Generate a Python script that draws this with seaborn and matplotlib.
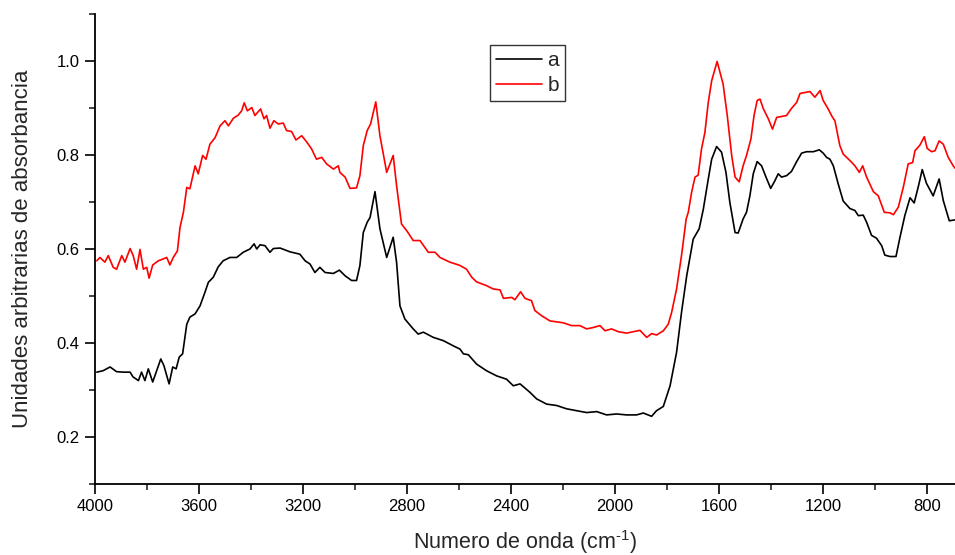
import matplotlib
matplotlib.use("Agg")
import matplotlib.pyplot as plt
import seaborn as sns
import pandas as pd
from matplotlib.ticker import MultipleLocator
from matplotlib.lines import Line2D

# ---- data ----
wn_a = [3993, 3969, 3942, 3917, 3891, 3865, 3854, 3833, 3821, 3808, 3795, 3778, 3763, 3747, 3735,
        3715, 3701, 3688, 3676, 3663, 3647, 3635, 3615, 3596, 3577, 3564, 3545, 3526, 3507, 3481,
        3455, 3430, 3404, 3388, 3378, 3365, 3346, 3327, 3314, 3288, 3250, 3212, 3192, 3173, 3154,
        3135, 3115, 3083, 3060, 3038, 3013, 2994, 2981, 2968, 2953, 2942, 2923, 2904, 2878, 2853,
        2840, 2827, 2808, 2776, 2757, 2737, 2699, 2660, 2622, 2596, 2583, 2564, 2532, 2494, 2455,
        2417, 2391, 2365, 2327, 2301, 2263, 2224, 2186, 2147, 2109, 2070, 2032, 1994, 1955, 1917,
        1891, 1859, 1840, 1814, 1788, 1763, 1744, 1724, 1699, 1676, 1660, 1641, 1628, 1609, 1590,
        1573, 1558, 1538, 1526, 1507, 1494, 1481, 1468, 1453, 1436, 1419, 1401, 1385, 1372, 1359,
        1340, 1321, 1301, 1282, 1263, 1237, 1214, 1199, 1186, 1173, 1160, 1141, 1122, 1096, 1077,
        1064, 1045, 1032, 1013, 994, 974, 962, 942, 919, 904, 885, 865, 849, 833, 818,
        802, 776, 753, 737, 714, 692]
abs_a = [0.338, 0.341, 0.349, 0.339, 0.338, 0.338, 0.328, 0.320, 0.338, 0.320, 0.345, 0.317, 0.341, 0.366, 0.352,
         0.313, 0.349, 0.345, 0.370, 0.377, 0.440, 0.455, 0.462, 0.479, 0.508, 0.529, 0.540, 0.562, 0.575, 0.582,
         0.582, 0.593, 0.600, 0.611, 0.600, 0.609, 0.607, 0.593, 0.601, 0.602, 0.594, 0.589, 0.575, 0.568, 0.550,
         0.561, 0.550, 0.548, 0.555, 0.543, 0.533, 0.533, 0.565, 0.635, 0.657, 0.667, 0.722, 0.643, 0.582, 0.625,
         0.572, 0.479, 0.451, 0.430, 0.419, 0.423, 0.412, 0.405, 0.394, 0.387, 0.377, 0.375, 0.355, 0.341, 0.330,
         0.323, 0.309, 0.313, 0.295, 0.281, 0.270, 0.267, 0.260, 0.256, 0.252, 0.254, 0.247, 0.249, 0.247, 0.247,
         0.251, 0.244, 0.256, 0.265, 0.309, 0.380, 0.465, 0.543, 0.621, 0.643, 0.685, 0.749, 0.791, 0.818, 0.806,
         0.763, 0.699, 0.635, 0.634, 0.664, 0.678, 0.713, 0.760, 0.786, 0.777, 0.753, 0.729, 0.745, 0.760, 0.753,
         0.756, 0.765, 0.786, 0.804, 0.807, 0.807, 0.811, 0.804, 0.795, 0.791, 0.777, 0.738, 0.702, 0.686, 0.682,
         0.671, 0.672, 0.657, 0.629, 0.623, 0.607, 0.587, 0.584, 0.584, 0.624, 0.671, 0.709, 0.698, 0.733, 0.769,
         0.740, 0.713, 0.749, 0.703, 0.660, 0.662]

wn_b = [3993, 3981, 3962, 3949, 3930, 3917, 3897, 3885, 3865, 3853, 3840, 3827, 3814, 3801, 3792,
        3778, 3756, 3737, 3724, 3712, 3699, 3683, 3673, 3660, 3647, 3635, 3615, 3603, 3586, 3573,
        3558, 3538, 3519, 3500, 3487, 3468, 3449, 3436, 3426, 3414, 3397, 3385, 3363, 3350, 3340,
        3327, 3312, 3295, 3276, 3263, 3244, 3227, 3205, 3186, 3167, 3148, 3128, 3109, 3083, 3064,
        3058, 3038, 3019, 2994, 2981, 2968, 2953, 2940, 2920, 2904, 2878, 2853, 2840, 2821, 2801,
        2776, 2750, 2718, 2692, 2673, 2635, 2596, 2571, 2551, 2532, 2494, 2468, 2442, 2429, 2397,
        2385, 2363, 2346, 2321, 2308, 2282, 2250, 2224, 2199, 2167, 2135, 2109, 2083, 2058, 2038,
        2013, 1987, 1955, 1929, 1904, 1878, 1859, 1840, 1814, 1795, 1782, 1763, 1744, 1726, 1718,
        1705, 1692, 1680, 1667, 1654, 1641, 1628, 1607, 1584, 1568, 1551, 1538, 1522, 1507, 1494,
        1477, 1465, 1453, 1442, 1429, 1410, 1394, 1378, 1359, 1340, 1321, 1301, 1288, 1269, 1250,
        1231, 1211, 1199, 1180, 1163, 1154, 1135, 1122, 1096, 1077, 1060, 1047, 1032, 1006, 987,
        964, 942, 929, 910, 891, 872, 855, 846, 827, 810, 799, 782, 769, 753, 737,
        718, 699, 692]
abs_b = [0.575, 0.582, 0.572, 0.586, 0.561, 0.557, 0.586, 0.572, 0.601, 0.586, 0.557, 0.599, 0.557, 0.561, 0.538,
         0.566, 0.575, 0.579, 0.582, 0.566, 0.582, 0.596, 0.646, 0.678, 0.731, 0.728, 0.777, 0.760, 0.799, 0.791,
         0.823, 0.837, 0.862, 0.873, 0.862, 0.878, 0.885, 0.894, 0.911, 0.894, 0.901, 0.884, 0.898, 0.877, 0.884,
         0.857, 0.873, 0.866, 0.868, 0.852, 0.850, 0.832, 0.841, 0.828, 0.813, 0.791, 0.795, 0.781, 0.770, 0.777,
         0.763, 0.753, 0.729, 0.730, 0.756, 0.820, 0.852, 0.866, 0.913, 0.841, 0.763, 0.799, 0.735, 0.653, 0.639,
         0.618, 0.618, 0.593, 0.593, 0.582, 0.572, 0.565, 0.557, 0.540, 0.530, 0.522, 0.515, 0.513, 0.495, 0.497,
         0.492, 0.509, 0.495, 0.490, 0.469, 0.458, 0.447, 0.445, 0.443, 0.437, 0.437, 0.430, 0.433, 0.437, 0.426,
         0.430, 0.424, 0.421, 0.424, 0.427, 0.412, 0.420, 0.417, 0.426, 0.440, 0.465, 0.515, 0.586, 0.664, 0.678,
         0.721, 0.753, 0.757, 0.813, 0.848, 0.912, 0.958, 0.999, 0.951, 0.884, 0.799, 0.753, 0.743, 0.777, 0.799,
         0.834, 0.884, 0.916, 0.919, 0.898, 0.877, 0.855, 0.880, 0.882, 0.884, 0.899, 0.912, 0.931, 0.933, 0.935,
         0.923, 0.937, 0.916, 0.898, 0.880, 0.873, 0.820, 0.802, 0.788, 0.777, 0.763, 0.777, 0.753, 0.722, 0.713,
         0.678, 0.677, 0.673, 0.689, 0.731, 0.781, 0.784, 0.809, 0.821, 0.839, 0.814, 0.807, 0.809, 0.830, 0.823,
         0.795, 0.777, 0.772]

series_labels = ["a", "b"]
series_colors = ["black", "red"]
x_ticks = [4000, 3600, 3200, 2800, 2400, 2000, 1600, 1200, 800]
y_ticks = [0.2, 0.4, 0.6, 0.8, 1.0]

# ---- styling ----
sns.set_style("ticks")
plt.rcParams["font.family"] = ["Liberation Sans", "DejaVu Sans"]
plt.rcParams["mathtext.fontset"] = "custom"
plt.rcParams["mathtext.rm"] = "Liberation Sans"
plt.rcParams["mathtext.it"] = "Liberation Sans:italic"

df = pd.concat([
    pd.DataFrame({"wn": wn_a, "abs": abs_a, "sample": series_labels[0]}),
    pd.DataFrame({"wn": wn_b, "abs": abs_b, "sample": series_labels[1]}),
], ignore_index=True)

fig = plt.figure(figsize=(9.55, 5.55), dpi=100)
ax = fig.add_axes([95 / 955, 1 - 484 / 555, 860 / 955, 470 / 555])

sns.lineplot(data=df, x="wn", y="abs", hue="sample",
             palette=dict(zip(series_labels, series_colors)),
             estimator=None, sort=False, linewidth=1.2, legend=False, ax=ax)

ax.set_xlim(4000, 692)
ax.set_ylim(0.1, 1.1)
ax.set_xticks(x_ticks)
ax.set_yticks(y_ticks)
ax.set_yticklabels([f"{v:.1f}" for v in y_ticks])
ax.xaxis.set_minor_locator(MultipleLocator(200))
ax.yaxis.set_minor_locator(MultipleLocator(0.1))
ax.tick_params(axis="both", which="major", direction="out", length=7, width=1.2,
               labelsize=12, pad=4, colors="black")
ax.tick_params(axis="both", which="minor", direction="out", length=4, width=1.2)

sns.despine(ax=ax)
for s in ("left", "bottom"):
    ax.spines[s].set_linewidth(1.3)
    ax.spines[s].set_color("black")

ax.set_xlabel("Numero de onda (cm$^{\\text{-1}}$)", fontsize=15.5, labelpad=10)
ax.set_ylabel("Unidades arbitrarias de absorbancia", fontsize=16, labelpad=17)

handles = [Line2D([0], [0], color=c, lw=1.2) for c in series_colors]
leg = ax.legend(handles, series_labels, loc="upper left",
                bbox_to_anchor=((490 - 95) / 860, (484 - 45) / 470),
                borderaxespad=0, fontsize=15, frameon=True, fancybox=False,
                handlelength=2.2, handletextpad=0.25, labelspacing=0.28,
                borderpad=0.3)
leg.get_frame().set_edgecolor("black")
leg.get_frame().set_linewidth(1.0)

fig.savefig("out.png", dpi=100)
